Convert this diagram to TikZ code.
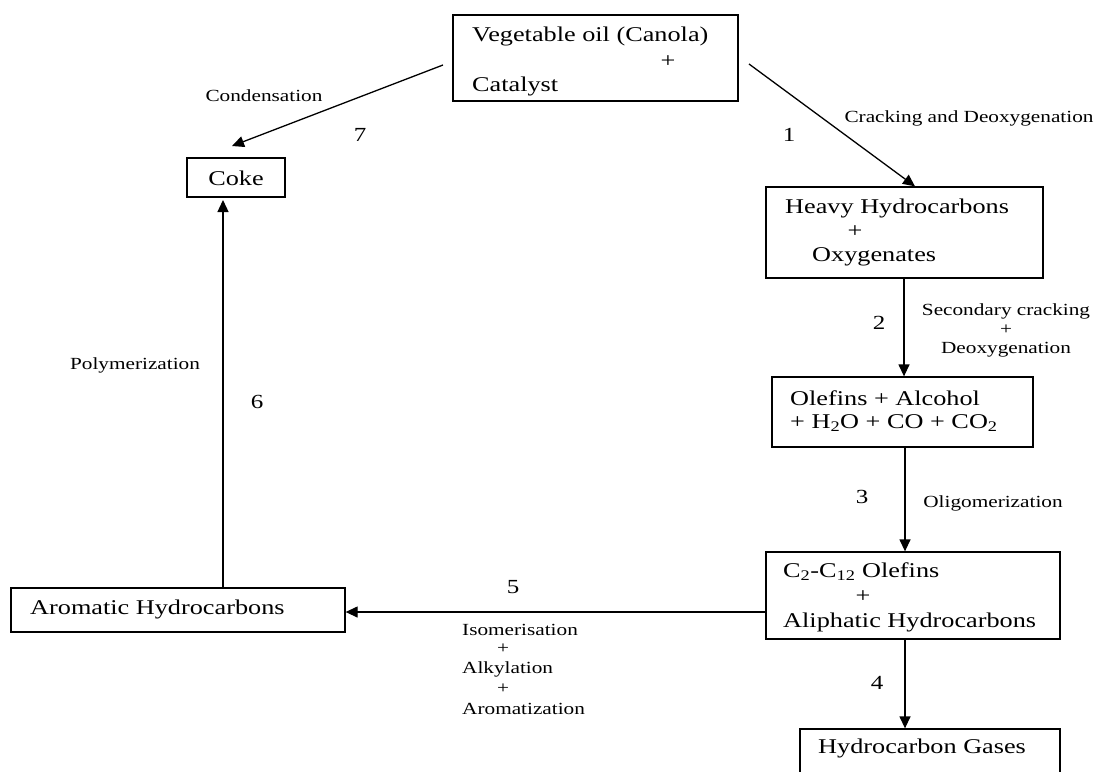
\documentclass[tikz,border=0pt]{standalone}
\usepackage{fontspec}
\setmainfont{Liberation Serif}[FakeStretch=1.25]
\usetikzlibrary{arrows.meta}
\begin{document}
\begin{tikzpicture}[x=1pt,y=-1pt,
  box/.style={draw,line width=1.3pt,inner sep=0pt,minimum width=#1},
  boxtxt/.style={font=\fontsize{21}{24}\selectfont,inner sep=0pt},
  lbl/.style={font=\fontsize{17}{20}\selectfont,inner sep=0pt},
  num/.style={font=\fontsize{20}{23}\selectfont,inner sep=0pt},
  conn/.style={line width=1.3pt,-{Triangle[length=12pt,width=11pt]}}]
\clip (0,0) rectangle (1097,771);
\fill[white] (0,0) rectangle (1097,771);
% boxes
\node[box=285pt,minimum height=86pt] (top) at (595.5,58) {};
\node[box=98pt,minimum height=39pt] (coke) at (236,177.5) {};
\node[box=277pt,minimum height=91pt] (heavy) at (904.5,232.5) {};
\node[box=261pt,minimum height=70pt] (olef) at (902.5,412) {};
\node[box=294pt,minimum height=87pt] (c2) at (913,595.5) {};
\node[box=260pt,minimum height=60pt] (gas) at (930,759) {};
\node[box=334pt,minimum height=44pt] (arom) at (178,610) {};
% box texts
\node[boxtxt,anchor=west] (t1) at (472,36) {Vegetable oil (Canola)};
\node[boxtxt] (t2) at (668,62) {+};
\node[boxtxt,anchor=west] (t3) at (472,86) {Catalyst};
\node[boxtxt] (tc) at (236,178) {Coke};
\node[boxtxt,anchor=west] (h1) at (785,208) {Heavy Hydrocarbons};
\node[boxtxt] (h2) at (855,232) {+};
\node[boxtxt,anchor=west] (h3) at (812,257) {Oxygenates};
\node[boxtxt,anchor=west] (o1) at (790,398) {Olefins + Alcohol};
\node[boxtxt,anchor=west] (o2) at (790,423) {+ H\textsubscript{2}O + CO + CO\textsubscript{2}};
\node[boxtxt,anchor=west] (c1) at (783,572) {C\textsubscript{2}-C\textsubscript{12} Olefins};
\node[boxtxt] (cp) at (863,597) {+};
\node[boxtxt,anchor=west] (c3) at (783,622) {Aliphatic Hydrocarbons};
\node[boxtxt,anchor=west] (g1) at (818,748) {Hydrocarbon Gases};
\node[boxtxt,anchor=west] (a1) at (30,609) {Aromatic Hydrocarbons};
% connectors
\coordinate (s7) at (443,65);
\coordinate (e7) at (232,146);
\coordinate (s1) at (749,64);
\coordinate (e6) at (223,200);
\draw[conn] (s7) -- (e7);
\draw[conn] (s1) -- (heavy.north -| 915,0);
\draw[conn] (heavy.south -| 904,0) -- (olef.north -| 904,0);
\draw[conn] (olef.south -| 905,0) -- (c2.north -| 905,0);
\draw[conn] (c2.south -| 905,0) -- (gas.north -| 905,0);
\draw[conn] (c2.west |- 0,612) -- (arom.east |- 0,612);
\draw[conn] (arom.north -| e6) -- (e6);
% labels
\node[lbl] (l7) at (264,96) {Condensation};
\node[num] (n7) at (360,135) {7};
\node[num] (n1) at (789,135) {1};
\node[lbl] (l1) at (969,118) {Cracking and Deoxygenation};
\node[num] (n2) at (879,323) {2};
\node[lbl,align=center] (l2) at (1006,330) {Secondary cracking\\[-1pt]+\\[-1pt]Deoxygenation};
\node[num] (n3) at (862,497) {3};
\node[lbl] (l3) at (993,503) {Oligomerization};
\node[num] (n4) at (877,683) {4};
\node[num] (n5) at (513,587) {5};
\node[lbl,anchor=west] (l5a) at (462,630) {Isomerisation};
\node[lbl] (l5b) at (503,649) {+};
\node[lbl,anchor=west] (l5c) at (462,669) {Alkylation};
\node[lbl] (l5d) at (503,689) {+};
\node[lbl,anchor=west] (l5e) at (462,709) {Aromatization};
\node[lbl] (l6) at (135,365) {Polymerization};
\node[num] (n6) at (257,402) {6};
\end{tikzpicture}
\end{document}
